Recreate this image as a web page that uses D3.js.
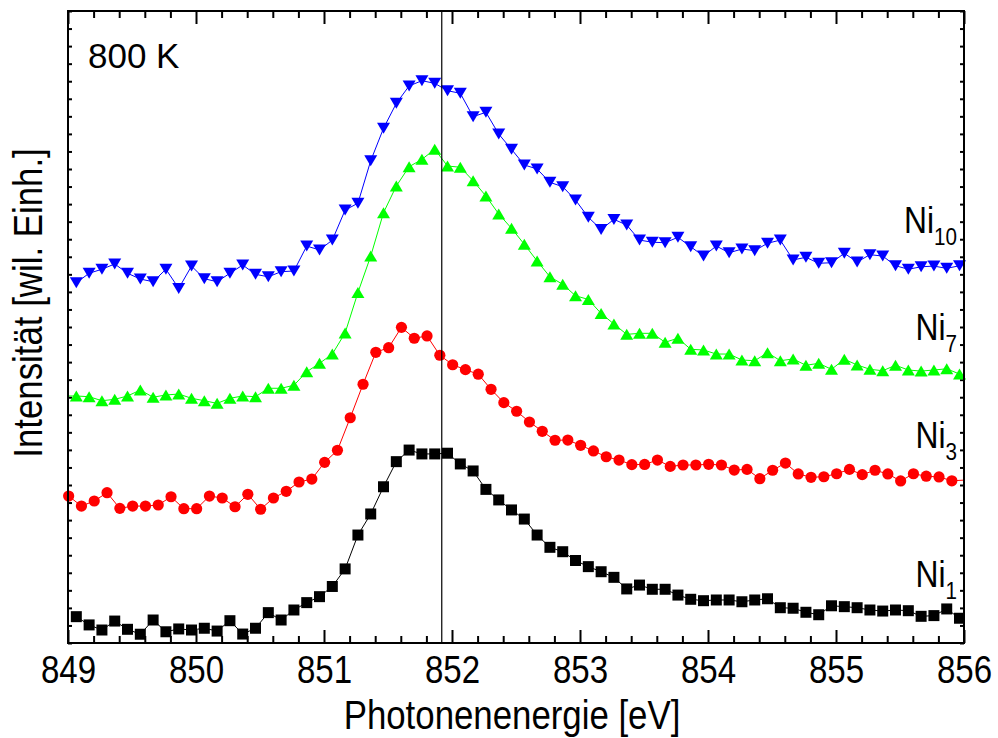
<!DOCTYPE html>
<html>
<head>
<meta charset="utf-8">
<script src="https://cdn.jsdelivr.net/npm/d3@7"></script>
<style>
  html, body { margin: 0; padding: 0; background: #fff; }
  svg { display: block; font-family: "Liberation Sans", Arial, sans-serif; }
</style>
</head>
<body>
<svg id="chart" width="998" height="738"></svg>
<script>
// Ni L3 absorption edge spectra at 800 K, vertically offset (arbitrary units)
const energyStep = 0.1;                       // eV between samples
const seriesKeys   = ["Ni1", "Ni3", "Ni7", "Ni10"];
const seriesStart  = [849.065, 849.005, 848.965, 849.065]; // energy of the first sample (eV)
const seriesColors = ["#000000", "#ff0000", "#00ff00", "#0000ff"];
const seriesShapes = ["square", "circle", "triangleUp", "triangleDown"];
const seriesSub    = ["1", "3", "7", "10"];

const ni1 = [1.50, 1.03, 0.74, 1.25, 0.78, 0.50, 1.31, 0.64, 0.80, 0.74,
             0.84, 0.68, 1.27, 0.51, 0.84, 1.73, 1.31, 1.88, 2.30, 2.64,
             3.22, 4.22, 6.15, 7.35, 8.90, 10.33, 10.99, 10.77, 10.77, 10.81,
             10.20, 9.80, 8.75, 8.15, 7.58, 7.06, 6.15, 5.45, 5.20, 4.70,
             4.35, 4.06, 3.74, 3.08, 3.30, 3.06, 3.06, 2.73, 2.49, 2.41,
             2.45, 2.45, 2.35, 2.45, 2.52, 2.01, 1.98, 1.75, 1.61, 2.12,
             2.07, 2.01, 1.88, 1.82, 1.88, 1.84, 1.52, 1.56, 1.94, 1.41];

const ni3 = [8.37, 7.80, 8.09, 8.56, 7.67, 7.80, 7.80, 7.86, 8.33, 7.65,
             7.65, 8.37, 8.26, 7.76, 8.47, 7.62, 8.26, 8.64, 9.17, 9.34,
             10.29, 10.98, 12.83, 14.74, 16.56, 16.82, 17.98, 17.36, 17.49, 16.39,
             15.85, 15.57, 15.31, 14.45, 13.69, 13.20, 12.59, 12.06, 11.55, 11.56,
             11.26, 10.94, 10.61, 10.42, 10.16, 10.17, 10.42, 10.06, 10.14, 10.14,
             10.18, 10.14, 9.85, 9.89, 9.36, 9.84, 10.25, 9.63, 9.44, 9.47,
             9.64, 9.89, 9.59, 9.84, 9.63, 9.23, 9.64, 9.50, 9.46, 9.24, 9.28];

const ni7 = [14.07, 14.07, 14.03, 13.80, 13.88, 14.07, 14.41, 14.00, 14.13, 14.18, 13.94,
             13.80, 13.65, 13.94, 14.07, 14.03, 14.51, 14.51, 14.68, 15.45, 15.93,
             16.46, 17.66, 19.96, 22.04, 24.51, 26.03, 27.13, 27.55, 28.12, 27.17,
             27.10, 26.33, 25.46, 24.44, 23.62, 22.71, 21.76, 20.86, 20.43, 19.78,
             19.57, 18.77, 18.17, 17.58, 17.64, 17.64, 17.13, 17.36, 16.73, 16.69,
             16.46, 16.46, 16.12, 16.08, 16.54, 16.08, 16.18, 15.82, 15.93, 15.59,
             16.16, 15.84, 15.59, 15.51, 15.82, 15.55, 15.49, 15.55, 15.62, 15.32];

const ni10 = [20.52, 21.06, 21.29, 21.59, 21.06, 20.73, 20.58, 21.29, 20.20, 21.47,
              20.75, 20.58, 21.06, 21.53, 21.00, 20.86, 21.15, 21.19, 22.61, 22.39,
              22.95, 24.66, 25.05, 27.47, 29.32, 30.74, 31.73, 32.03, 31.88, 31.46,
              31.31, 29.98, 30.23, 28.99, 28.12, 27.23, 27.00, 26.24, 25.99, 25.23,
              24.25, 23.56, 24.13, 23.81, 22.95, 22.83, 22.80, 23.11, 22.57, 22.04,
              22.61, 22.23, 22.44, 22.35, 22.77, 22.95, 21.82, 21.97, 21.63, 21.66,
              22.20, 21.70, 22.12, 22.04, 21.49, 21.29, 21.43, 21.47, 21.34, 21.49];

const seriesValues = [ni1, ni3, ni7, ni10];
const labelValues  = [3.2, 11.1, 17.25, 23.35];   // baseline level of each series label

const xTicksMajor = [849, 850, 851, 852, 853, 854, 855, 856];
const yDomain = [0, 36];
const refEnergy = 851.92;                        // vertical reference line
const tempLabel = "800 K";
const xTitle = "Photonenenergie [eV]";
const yTitle = "Intensität [wil. Einh.]";

// ---- layout ----
const W = 998, H = 738;
const margin = { left: 68, top: 11, right: 34, bottom: 95 };
const pw = W - margin.left - margin.right;
const ph = H - margin.top - margin.bottom;
const narrow = 0.87;                             // horizontal squeeze of axis lettering

const svg = d3.select("#chart");
const g = svg.append("g").attr("transform", `translate(${margin.left},${margin.top})`);

const x = d3.scaleLinear().domain([849, 856]).range([0, pw]);
const y = d3.scaleLinear().domain(yDomain).range([ph, 0]);

svg.append("defs").append("clipPath").attr("id", "plotClip")
  .append("rect").attr("width", pw).attr("height", ph);

// ---- ticks (inward, all four sides) ----
const minorTicks = d3.range(849, 856.001, 0.2).map(v => +v.toFixed(1))
  .filter(v => !xTicksMajor.includes(v));

function styleAxis(sel) {
  sel.select(".domain").remove();
  sel.selectAll(".tick line").attr("stroke", "#000").attr("stroke-width", 2);
}

g.append("g").attr("transform", `translate(0,${ph})`)
  .call(d3.axisBottom(x).tickValues(xTicksMajor).tickSize(-13).tickPadding(0)
        .tickFormat(d3.format("d")))
  .call(styleAxis)
  .call(s => s.selectAll("text")
              .attr("y", 40).attr("dy", null)
              .attr("transform", `scale(${narrow},1)`)
              .attr("font-size", 38).attr("fill", "#000")
              .attr("font-family", "'Liberation Sans', Arial, sans-serif"));
g.append("g").attr("transform", `translate(0,${ph})`)
  .call(d3.axisBottom(x).tickValues(minorTicks).tickSize(-7).tickFormat(""))
  .call(styleAxis);
g.append("g")
  .call(d3.axisTop(x).tickValues(xTicksMajor).tickSize(-13).tickFormat(""))
  .call(styleAxis);
g.append("g")
  .call(d3.axisTop(x).tickValues(minorTicks).tickSize(-7).tickFormat(""))
  .call(styleAxis);

const yTicks = d3.range(yDomain[0], yDomain[1] + 1, 1);
g.append("g")
  .call(d3.axisLeft(y).tickValues(yTicks).tickSize(-4).tickFormat(""))
  .call(styleAxis);
g.append("g").attr("transform", `translate(${pw},0)`)
  .call(d3.axisRight(y).tickValues(yTicks).tickSize(-4).tickFormat(""))
  .call(styleAxis);

// ---- series ----
const markerPath = {
  square: () => "M-5.5,-5.5H5.5V5.5H-5.5Z",
  circle: () => d3.symbol(d3.symbolCircle, Math.PI * 5.6 * 5.6)(),
  triangleUp: () => "M0,-5.5L6.5,5.5L-6.5,5.5Z",
  triangleDown: () => "M0,5.5L6.5,-5.5L-6.5,-5.5Z"
};

const line = d3.line().x(d => x(d.e)).y(d => y(d.v));

seriesKeys.forEach((key, i) => {
  const pts = seriesValues[i].map((v, j) => ({ e: seriesStart[i] + j * energyStep, v }));
  const sg = g.append("g").attr("class", "series-" + key);

  sg.append("path")
    .datum(pts)
    .attr("clip-path", "url(#plotClip)")
    .attr("fill", "none")
    .attr("stroke", seriesColors[i])
    .attr("stroke-width", 1)
    .attr("d", line);

  sg.selectAll("path.mark")
    .data(pts.filter(d => d.e >= 849 && d.e <= 856))
    .join("path")
    .attr("class", "mark")
    .attr("transform", d => `translate(${x(d.e)},${y(d.v)})`)
    .attr("d", markerPath[seriesShapes[i]]())
    .attr("fill", seriesColors[i]);

  // series label "Ni" with subscript, right aligned near the frame
  const t = g.append("text")
    .attr("transform", `translate(${pw - 7},${y(labelValues[i])}) scale(0.86,1)`)
    .attr("text-anchor", "end")
    .attr("font-size", 37)
    .attr("fill", "#000");
  t.append("tspan").text("Ni");
  t.append("tspan").attr("font-size", 24).attr("dy", 12).text(seriesSub[i]);
});

// vertical reference line
g.append("line")
  .attr("x1", x(refEnergy)).attr("x2", x(refEnergy))
  .attr("y1", 0).attr("y2", ph)
  .attr("stroke", "#000").attr("stroke-width", 1.2);

// frame
g.append("rect")
  .attr("width", pw).attr("height", ph)
  .attr("fill", "none").attr("stroke", "#000").attr("stroke-width", 2);

// temperature annotation
g.append("text")
  .attr("x", 20).attr("y", 57)
  .attr("font-size", 35).attr("fill", "#000")
  .text(tempLabel);

// axis titles
svg.append("text")
  .attr("transform", `translate(${margin.left + pw / 2 - 4},729) scale(${narrow},1)`)
  .attr("text-anchor", "middle")
  .attr("font-size", 40).attr("fill", "#000")
  .text(xTitle);

svg.append("text")
  .attr("transform", `translate(42,303) rotate(-90) scale(${narrow},1)`)
  .attr("text-anchor", "middle")
  .attr("font-size", 40).attr("fill", "#000")
  .text(yTitle);
</script>
</body>
</html>
